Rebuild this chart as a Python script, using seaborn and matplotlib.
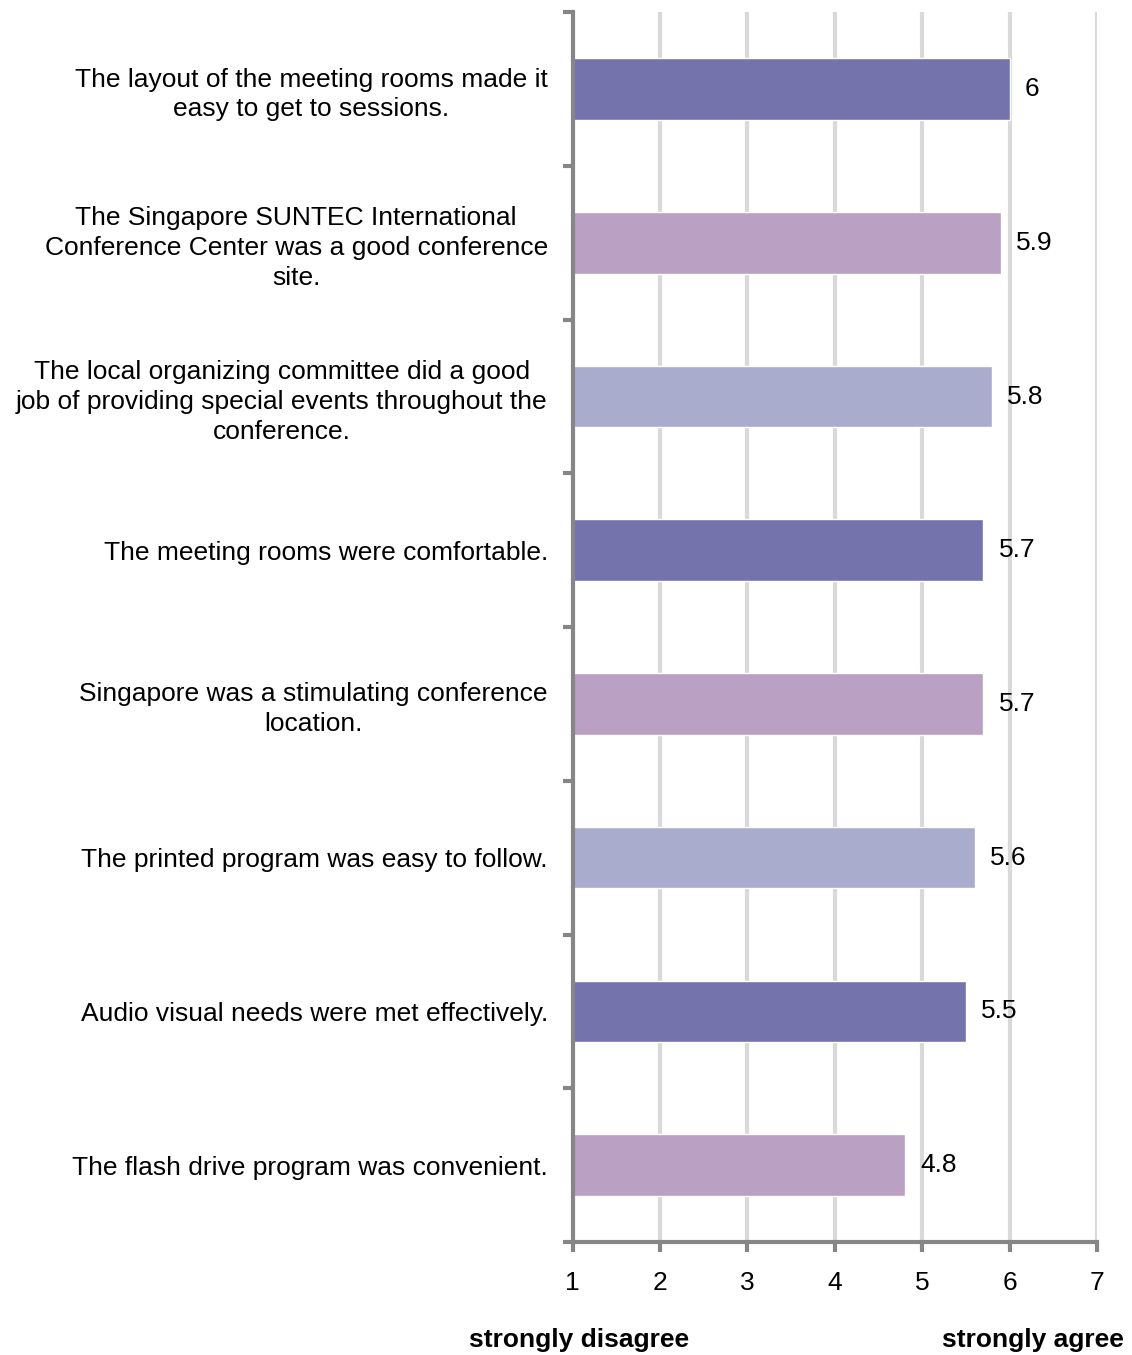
import matplotlib
matplotlib.use("Agg")
import matplotlib.pyplot as plt
import seaborn as sns
import pandas as pd
from matplotlib.ticker import FixedLocator

# === Data ===
statements = [
    "The layout of the meeting rooms made it\neasy to get to sessions.",
    "The Singapore SUNTEC International\nConference Center was a good conference\nsite.",
    "The local organizing committee did a good\njob of providing special events throughout the\nconference.",
    "The meeting rooms were comfortable.",
    "Singapore was a stimulating conference\nlocation.",
    "The printed program was easy to follow.",
    "Audio visual needs were met effectively.",
    "The flash drive program was convenient.",
]
scores = [6, 5.9, 5.8, 5.7, 5.7, 5.6, 5.5, 4.8]
score_labels = ["6", "5.9", "5.8", "5.7", "5.7", "5.6", "5.5", "4.8"]
x_ticks = [1, 2, 3, 4, 5, 6, 7]

bar_colors = ["#7473AC", "#BAA0C3", "#AAACCE"]

sns.set_style("white")
plt.rcParams['font.family'] = ['Liberation Sans', 'DejaVu Sans']
plt.rcParams['text.color'] = 'black'
plt.rcParams['xtick.labelcolor'] = 'black'
plt.rcParams['ytick.labelcolor'] = 'black'

FS = 19

df = pd.DataFrame({"statement": statements, "score": scores})
df["color"] = [bar_colors[i % 3] for i in range(len(df))]

fig = plt.figure(figsize=(11.32, 13.55), dpi=100)
ax = fig.add_axes([0.506, 0.0834, 0.463, 0.9076])

sns.barplot(data=df, y="statement", x="score", hue="statement",
            palette=dict(zip(df["statement"], df["color"])),
            orient="h", width=0.4, legend=False, ax=ax, saturation=1)

ax.set_xlim(1, 7)
ax.set_ylim(len(df) - 0.5, -0.5)
ax.set_xticks(x_ticks)
ax.set_xlabel("")
ax.set_ylabel("")

# gridlines
ax.grid(False)
for xv in x_ticks[1:]:
    ax.axvline(xv, color="#D9D9D9", lw=3, zorder=0)

# spines
for s in ["top", "right"]:
    ax.spines[s].set_visible(False)
for s in ["left", "bottom"]:
    ax.spines[s].set_color("#868686")
    ax.spines[s].set_linewidth(3)

ax.tick_params(axis="x", length=7, width=3, color="#868686", labelsize=FS,
               pad=14, direction="out", bottom=True)
ax.tick_params(axis="y", which="major", length=0, labelsize=FS, pad=18)
ax.yaxis.set_minor_locator(FixedLocator([i - 0.5 for i in range(len(df) + 1)]))
ax.tick_params(axis="y", which="minor", length=7, width=3, color="#868686",
               direction="out", left=True)

for lbl in ax.get_yticklabels():
    lbl.set_multialignment("center")
    lbl.set_linespacing(1.3)

for i, (v, t) in enumerate(zip(scores, score_labels)):
    ax.annotate(t, xy=(v, i), xytext=(11, 0), textcoords="offset points",
                ha="left", va="center", fontsize=FS)

fig.text(579 / 1132, 1 - 1340 / 1355, "strongly disagree", ha="center",
         va="center", fontsize=FS, fontweight="bold")
fig.text(1033 / 1132, 1 - 1340 / 1355, "strongly agree", ha="center",
         va="center", fontsize=FS, fontweight="bold")

fig.savefig("out.png", dpi=100)
